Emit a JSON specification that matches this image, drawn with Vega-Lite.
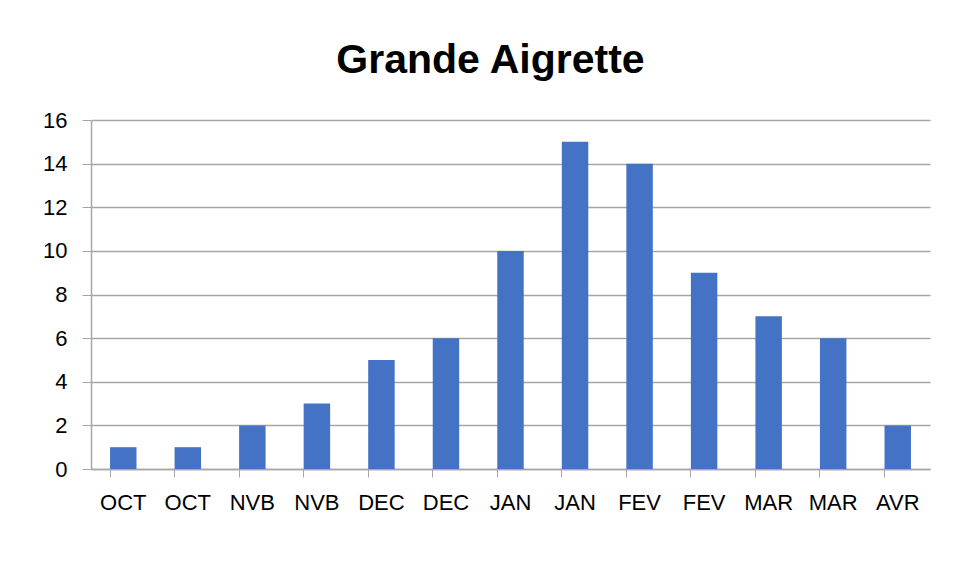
{
  "$schema": "https://vega.github.io/schema/vega-lite/v6.json",
  "autosize": {"type": "none"},
  "width": 839,
  "height": 349,
  "padding": {"left": 91, "top": 120, "right": 29, "bottom": 110},
  "background": "white",
  "title": {
    "text": "Grande Aigrette",
    "font": "Liberation Sans",
    "fontSize": 41,
    "fontWeight": "bold",
    "color": "#000000",
    "anchor": "middle",
    "baseline": "alphabetic",
    "dx": -20,
    "dy": 41,
    "offset": 36
  },
  "data": {
    "values": [
      {"k": "OCT1", "month": "OCT", "count": 1},
      {"k": "OCT2", "month": "OCT", "count": 1},
      {"k": "NVB1", "month": "NVB", "count": 2},
      {"k": "NVB2", "month": "NVB", "count": 3},
      {"k": "DEC1", "month": "DEC", "count": 5},
      {"k": "DEC2", "month": "DEC", "count": 6},
      {"k": "JAN1", "month": "JAN", "count": 10},
      {"k": "JAN2", "month": "JAN", "count": 15},
      {"k": "FEV1", "month": "FEV", "count": 14},
      {"k": "FEV2", "month": "FEV", "count": 9},
      {"k": "MAR1", "month": "MAR", "count": 7},
      {"k": "MAR2", "month": "MAR", "count": 6},
      {"k": "AVR1", "month": "AVR", "count": 2}
    ]
  },
  "mark": {"type": "bar", "color": "#4472C4"},
  "encoding": {
    "x": {
      "field": "k",
      "type": "nominal",
      "sort": null,
      "scale": {"paddingInner": 0.59, "paddingOuter": 0.295},
      "axis": {
        "title": null,
        "labelExpr": "slice(datum.value, 0, 3)",
        "labelAngle": 0,
        "labelFont": "Liberation Sans",
        "labelFontSize": 22,
        "labelColor": "#000000",
        "labelPadding": 15,
        "bandPosition": 0,
        "tickSize": 8,
        "tickColor": "#a6a6a6",
        "domainColor": "#a6a6a6",
        "domainWidth": 1.5,
        "grid": false
      }
    },
    "y": {
      "field": "count",
      "type": "quantitative",
      "scale": {"domain": [0, 16], "nice": false},
      "axis": {
        "title": null,
        "values": [0, 2, 4, 6, 8, 10, 12, 14, 16],
        "labelFont": "Liberation Sans",
        "labelFontSize": 22,
        "labelColor": "#000000",
        "labelPadding": 15,
        "tickSize": 9,
        "tickColor": "#a6a6a6",
        "domainColor": "#a6a6a6",
        "domainWidth": 1.5,
        "grid": true,
        "gridColor": "#a6a6a6",
        "gridWidth": 1.5
      }
    }
  },
  "config": {"view": {"stroke": null}}
}
